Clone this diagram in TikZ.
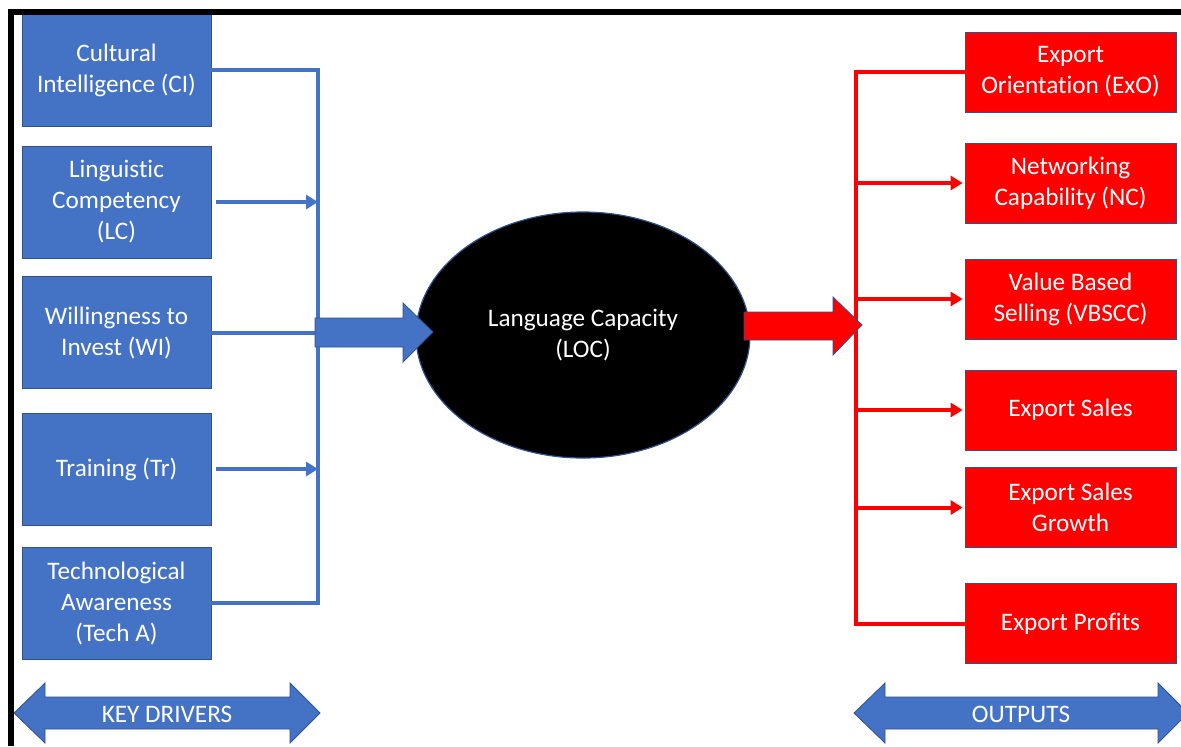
\documentclass[tikz,border=0pt]{standalone}
\usepackage{fontspec}
\setmainfont{Carlito}[Ligatures=NoCommon]
\usepackage{tikz}
\usetikzlibrary{shapes.geometric}
\usetikzlibrary{arrows.meta}
\definecolor{drvblue}{HTML}{4472C4}
\definecolor{edgeblue}{HTML}{2F528F}
\definecolor{outred}{HTML}{FF0000}
\tikzset{driver/.style={rectangle, fill=drvblue, draw=edgeblue, line width=0.4pt, text=white, align=center,
  minimum width=94.5pt, minimum height=56pt, inner sep=2pt, font=\fontsize{12.6}{15.5}\selectfont},
%output boxes are a little flatter
output/.style={driver, fill=outred, minimum width=105.5pt, minimum height=40pt},
bline/.style={drvblue, line width=2pt},
rline/.style={outred, line width=2pt},
barrow/.style={bline, -{Triangle[length=6pt,width=7pt]}},
rarrow/.style={rline, -{Triangle[length=6pt,width=7pt]}},
fatarrow/.style={draw=edgeblue, line width=0.4pt, line join=miter}}

\begin{document}
\begin{tikzpicture}[x=0.5pt,y=-0.5pt]
\clip (0,0) rectangle (1181,746);
%\draw [help lines,step=50] (0,0) grid (1181,746);

% key drivers
\node[driver] (ci) at (116.5,70) {Cultural\\Intelligence (CI)};
\node[driver] (lc) at (116.5,202) {Linguistic\\Competency\\(LC)};
\node[driver] (wi) at (116.5,332.5) {Willingness to\\Invest (WI)};
\node[driver] (tr) at (116.5,469) {Training (Tr)};
\node[driver] (ta) at (116.5,603) {Technological\\Awareness\\(Tech A)};

% outputs
\node[output] (exo) at (1070.5,72) {Export\\Orientation (ExO)};
\node[output] (nc) at (1070.5,183) {Networking\\Capability (NC)};
\node[output] (vb) at (1070.5,299) {Value Based\\Selling (VBSCC)};
\node[output] (es) at (1070.5,410) {Export Sales};
\node[output] (esg) at (1070.5,507.5) {Export Sales\\Growth};
\node[output] (ep) at (1070.5,623.5) {Export Profits};

% centre
\node[ellipse, fill=black, draw=edgeblue, line width=0.6pt, minimum width=167pt, minimum height=123pt,
  text=white, align=center, font=\fontsize{12.6}{15.5}\selectfont] (loc) at (583,335) {Language Capacity\\(LOC)};

\coordinate (bbus) at (318,333);
\coordinate (rbus) at (856,325);

% blue collector
\draw[bline] (ci.east) -- (ci.east -| bbus) -- (ta.east -| bbus) -- (ta.east);
\draw[bline] (wi.east) -- (wi.east -| bbus);
\foreach \n in {lc,tr}
  \draw[barrow] ([xshift=2.5pt]\n.east) -- (\n.east -| bbus);

% red distributor
\draw[rline] (exo.west) -- (exo.west -| rbus) -- (ep.west -| rbus) -- (ep.west);
\foreach \n in {nc,vb,es,esg}
  \draw[rarrow] (\n.west -| rbus) -- ([xshift=-1pt]\n.west);

% fat arrows
\draw[fatarrow, fill=drvblue] (315,318) -- (403,318) -- (403,303) -- (433,332) -- (403,362) -- (403,347) -- (315,347) -- cycle;
\draw[fatarrow, fill=outred] (744,312) -- (833,312) -- (833,297) -- (862,325) -- (833,355) -- (833,340) -- (744,340) -- cycle;

% bottom labels
\draw[fatarrow, fill=drvblue] (14,713) -- (45,683) -- (45,697) -- (290,697) -- (290,683) -- (320,713)
  -- (290,743) -- (290,729) -- (45,729) -- (45,743) -- cycle;
\node[text=white, font=\fontsize{12.6}{14}\selectfont] (kd) at (167,714) {KEY DRIVERS};
\draw[fatarrow, fill=drvblue] (854,713) -- (885,683) -- (885,697) -- (1158,697) -- (1158,683) -- (1188,713)
  -- (1158,743) -- (1158,729) -- (885,729) -- (885,743) -- cycle;
\node[text=white, font=\fontsize{12.6}{14}\selectfont] (op) at (1021,714) {OUTPUTS};

% frame
\draw[line width=3pt] (11,746) -- (11,12) -- (1181,12);
\end{tikzpicture}
\end{document}
